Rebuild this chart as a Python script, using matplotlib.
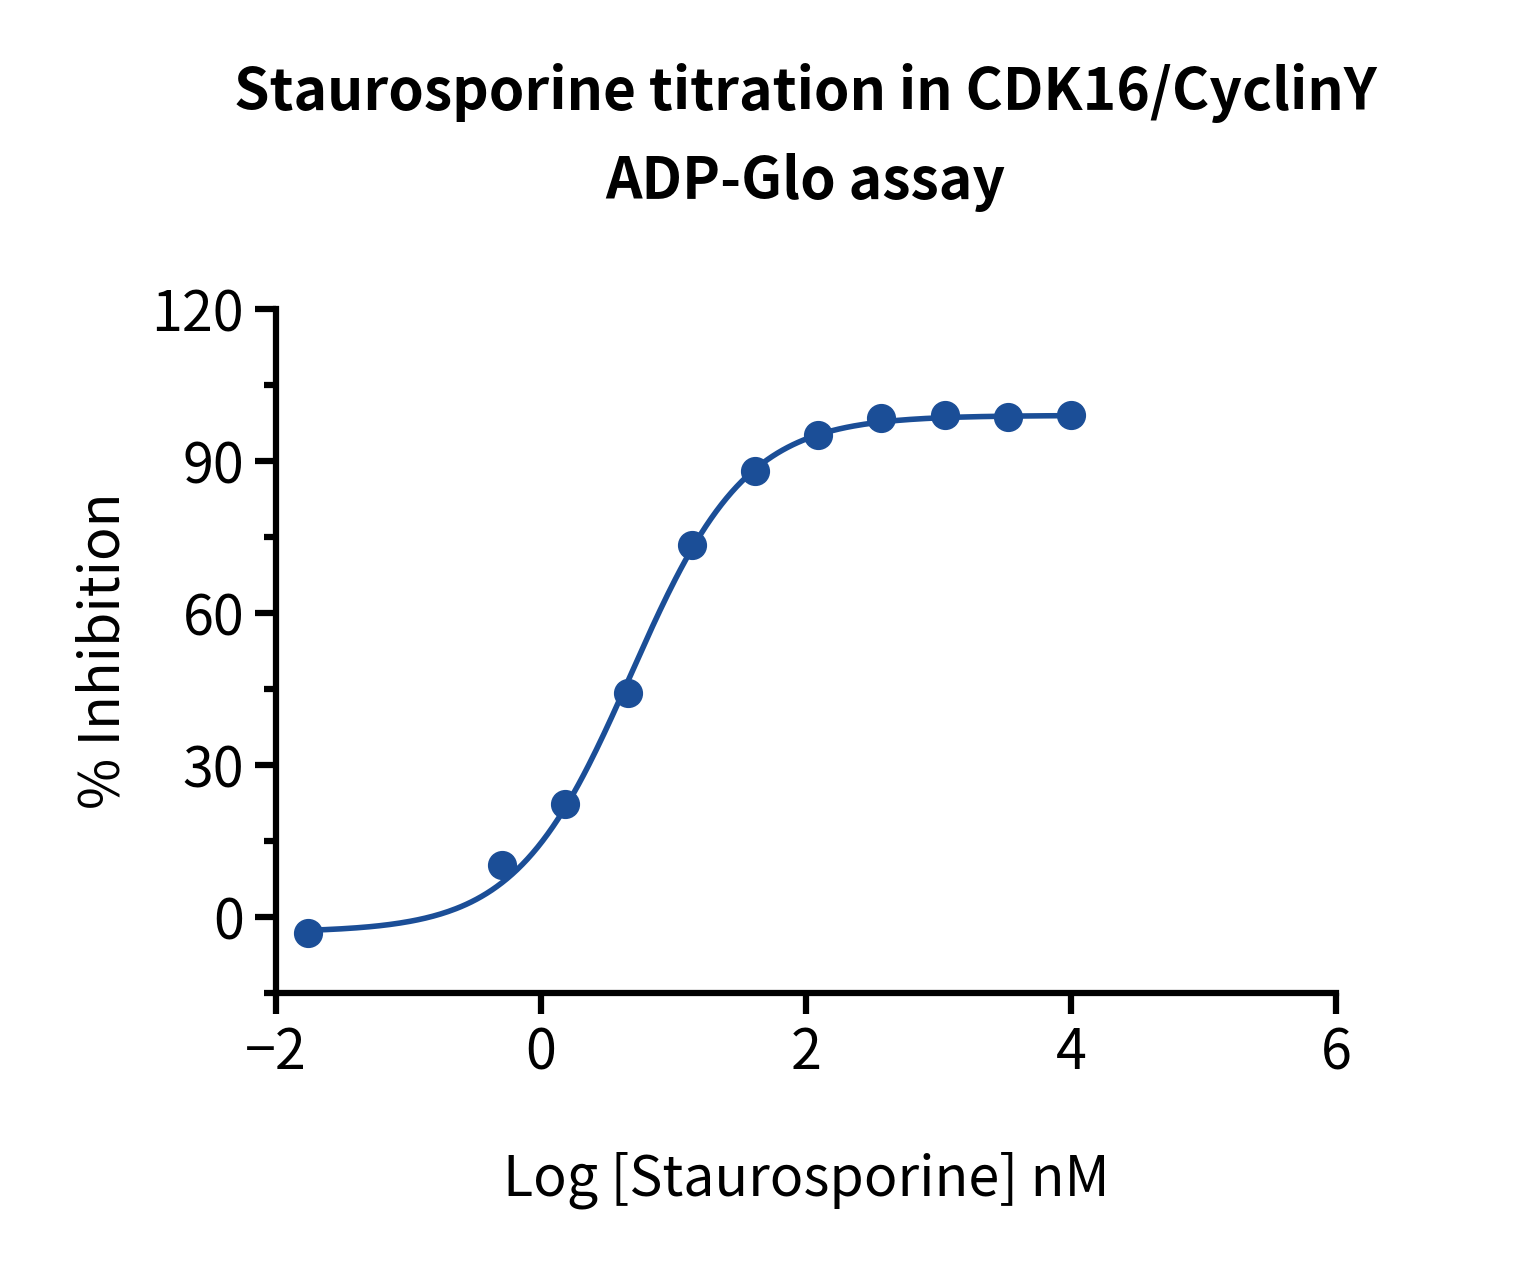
import numpy as np
import matplotlib
matplotlib.use('Agg')
import matplotlib.pyplot as plt

plt.rcParams['font.family'] = ['Noto Sans CJK SC', 'DejaVu Sans']

# measured points (log nM, % inhibition)
log_conc   = [-1.76, -0.295, 0.182, 0.659, 1.137, 1.614, 2.091, 2.568, 3.046, 3.523, 4.0]
inhibition = [-3.2, 10.3, 22.3, 44.3, 73.5, 88.0, 95.1, 98.4, 99.0, 98.6, 99.0]

# 4PL fit parameters
bottom, top, log_ic50, hill = -3.0, 99.0, 0.68, 1.0

x_ticks = [-2, 0, 2, 4, 6]
y_ticks = [0, 30, 60, 90, 120]
y_minor = [-15, 15, 45, 75, 105]

color = '#1b4e97'

fig = plt.figure(figsize=(15.17, 12.67), dpi=100)
ax  = fig.add_axes([0.182, 0.2163, 0.6987, 0.5398])

xf = np.linspace(min(log_conc), max(log_conc), 300)
yf = bottom + (top - bottom) / (1 + 10 ** ((log_ic50 - xf) * hill))
ax.plot(xf, yf, color=color, lw=4.0, solid_capstyle='round')
ax.plot(log_conc, inhibition, 'o', color=color, ms=20, mec=color)

ax.set_xlim(-2, 6)
ax.set_ylim(-15, 120)
ax.set_xticks(x_ticks)
ax.set_yticks(y_ticks)
ax.set_yticks(y_minor, minor=True)

for s in ['top', 'right']:
    ax.spines[s].set_visible(False)
for s in ['left', 'bottom']:
    ax.spines[s].set_linewidth(4.5)
ax.tick_params(which='major', length=15, width=4.5, labelsize=40, pad=8)
ax.tick_params(which='minor', length=9, width=4.5)

ax.set_xlabel('Log [Staurosporine] nM', fontsize=40, labelpad=50)
ax.set_ylabel('% Inhibition', fontsize=40, labelpad=14)

fig.suptitle('Staurosporine titration in CDK16/CyclinY\nADP-Glo assay',
             x=0.531, fontsize=41, fontweight='bold', y=0.95, linespacing=1.65)

fig.savefig('out.png', dpi=100)
